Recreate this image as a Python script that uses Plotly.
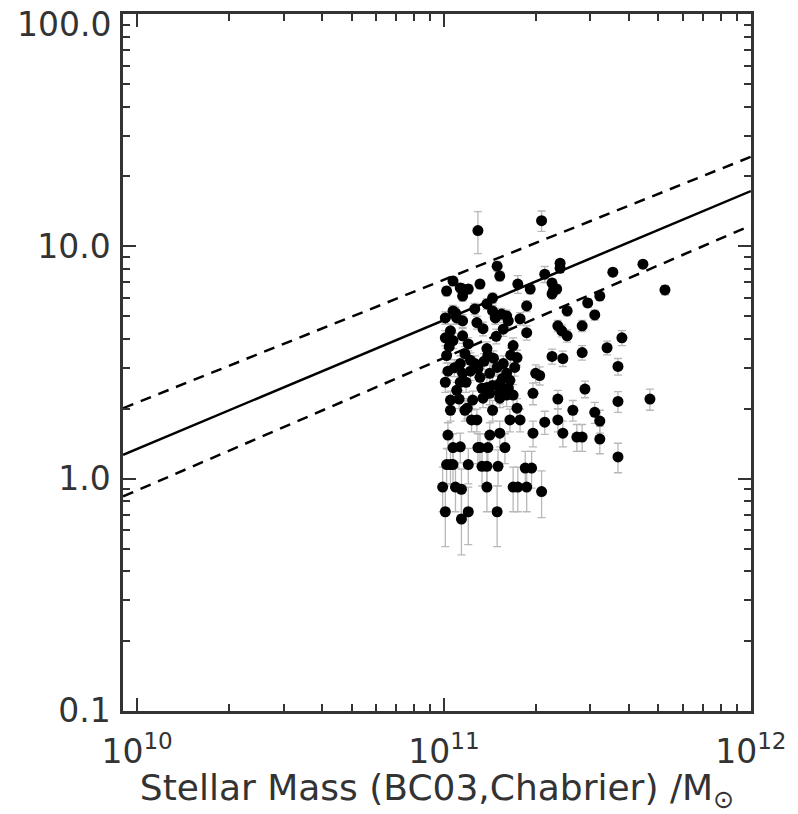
import numpy as np
import plotly.graph_objects as go

# Stellar mass in units of 1e11 Msun
mass_1e11 = [
    1.29, 2.08, 1.49, 1.52, 1.07, 1.02, 1.13, 1.20, 1.15, 1.31,
    1.74, 1.91, 1.86, 2.13, 2.39, 2.39, 2.25, 2.27, 1.44, 1.38,
    1.26, 1.07, 1.01, 1.10, 1.44, 1.47, 1.60, 1.77, 1.34, 1.05,
    1.01, 1.07, 1.68, 1.86, 2.35, 2.42, 2.52, 2.52, 2.82, 2.94,
    3.22, 3.10, 3.55, 4.45, 5.25, 3.80, 3.40, 2.82, 2.25, 2.44,
    3.69, 2.05, 1.95, 2.88, 2.35, 3.69, 4.69, 2.63, 3.10, 2.13,
    2.35, 3.22, 1.95, 2.44, 2.71, 2.82, 3.22, 3.69, 2.08, 2.25,
    2.33, 1.02, 1.01, 1.05, 1.05, 1.03, 1.07, 1.02, 0.99, 1.01,
    1.14, 1.20, 1.14, 1.09, 1.20, 1.07, 1.38, 1.49, 1.38, 1.31,
    1.39, 1.58, 1.52, 1.41, 1.23, 1.28, 1.44, 1.19, 1.24, 1.34,
    1.52, 1.73, 1.77, 1.64, 1.68, 1.74, 1.86, 1.84, 1.93, 1.73,
    1.38, 1.39, 1.13, 1.17, 1.22, 1.26, 1.29, 1.15, 1.13, 1.31,
    1.41, 1.49, 1.56, 1.60, 1.64, 1.52, 1.44, 1.38, 1.33, 1.52,
    1.60, 1.41, 1.70, 1.62, 1.68, 1.05, 1.33, 1.50, 1.13, 1.29,
    1.15, 1.17, 1.15, 1.09, 1.54, 1.62, 1.15, 1.99,
    1.04, 1.08, 1.10, 1.18, 1.22, 1.35, 1.45, 1.55, 1.65, 1.48,
    1.28, 1.20, 1.56, 1.03, 1.12,
]

ratio = [
    11.7, 12.9, 8.22, 7.45, 7.09, 6.42, 6.62, 6.55, 6.11, 6.88,
    6.88, 6.55, 5.54, 7.59, 8.46, 8.05, 6.95, 6.42, 5.99, 5.65,
    5.38, 5.27, 4.92, 4.92, 5.27, 4.92, 5.02, 4.88, 4.42, 4.33,
    4.04, 3.93, 3.74, 4.25, 4.55, 4.33, 4.12, 5.27, 4.55, 5.71,
    6.11, 5.07, 7.74, 8.38, 6.49, 4.04, 3.66, 3.49, 3.36, 3.29,
    3.04, 2.78, 2.33, 2.43, 2.20, 2.15, 2.20, 1.97, 1.93, 1.75,
    1.79, 1.77, 1.57, 1.57, 1.51, 1.51, 1.48, 1.24, 0.88, 6.24,
    6.55, 3.39, 2.60, 2.18, 1.97, 1.54, 1.36, 1.15, 0.92, 0.72,
    0.67, 0.72, 0.90, 0.92, 1.15, 1.15, 0.92, 0.72, 1.13, 1.36,
    1.36, 1.36, 1.57, 1.54, 1.79, 1.79, 1.97, 2.01, 2.18, 2.22,
    2.22, 2.01, 1.79, 1.79, 0.92, 0.92, 0.92, 1.11, 1.11, 3.32,
    3.63, 3.39, 3.13, 3.45, 3.23, 3.13, 2.98, 2.84, 2.60, 2.73,
    2.84, 3.01, 3.13, 2.84, 2.65, 2.57, 2.52, 2.47, 2.45, 2.35,
    2.29, 2.33, 3.01, 2.45, 2.29, 1.15, 1.13, 1.13, 1.37, 1.36,
    4.12, 1.97, 6.55, 5.17, 5.11, 4.78, 4.78, 2.84,
    3.70, 3.00, 2.40, 2.60, 2.90, 3.20, 3.30, 2.70, 3.40, 4.10,
    4.70, 3.80, 4.40, 2.90, 2.20,
]

ratio_err = [
    2.4, 1.3, 0.4, 0.35, 0.3, 0.3, 0.3, 0.3, 0.3, 0.3,
    0.6, 0.3, 0.3, 0.6, 0.3, 0.3, 0.3, 0.3, 0.3, 0.3,
    0.3, 0.3, 0.3, 0.3, 0.3, 0.3, 0.3, 0.3, 0.3, 0.3,
    0.3, 0.3, 0.3, 0.3, 0.25, 0.25, 0.25, 0.25, 0.25, 0.25,
    0.25, 0.25, 0.3, 0.3, 0.3, 0.3, 0.25, 0.25, 0.25, 0.25,
    0.25, 0.25, 0.25, 0.2, 0.2, 0.22, 0.23, 0.2, 0.2, 0.2,
    0.2, 0.2, 0.2, 0.2, 0.2, 0.2, 0.2, 0.18, 0.2, 0.3,
    0.3, 0.25, 0.25, 0.2, 0.2, 0.2, 0.2, 0.2, 0.2, 0.21,
    0.2, 0.2, 0.2, 0.2, 0.2, 0.2, 0.2, 0.21, 0.2, 0.2,
    0.2, 0.2, 0.2, 0.2, 0.2, 0.2, 0.2, 0.2, 0.2, 0.2,
    0.2, 0.2, 0.2, 0.2, 0.2, 0.2, 0.2, 0.2, 0.2, 0.25,
    0.25, 0.25, 0.25, 0.25, 0.25, 0.25, 0.25, 0.25, 0.25, 0.25,
    0.25, 0.25, 0.25, 0.25, 0.25, 0.25, 0.25, 0.25, 0.25, 0.25,
    0.25, 0.25, 0.25, 0.25, 0.25, 0.2, 0.2, 0.2, 0.2, 0.2,
    0.3, 0.2, 0.3, 0.3, 0.3, 0.3, 0.3, 0.25,
    0.25, 0.25, 0.2, 0.25, 0.25, 0.25, 0.25, 0.25, 0.25, 0.3,
    0.3, 0.25, 0.3, 0.25, 0.2,
]

# Relation lines (endpoints)
line_mass = [9.0e9, 1.0e12]
line_solid = [1.266, 17.3]
line_upper = [2.01, 24.3]
line_lower = [0.838, 12.3]

# Tick labels
x_tickvals = [1e10, 1e11, 1e12]
x_ticktext = ["10<sup>10</sup>", "10<sup>11</sup>", "10<sup>12</sup>"]
y_tickvals = [0.1, 1.0, 10.0, 100.0]
y_ticktext = ["0.1", "1.0", "10.0", ""]
y_top_label = "100.0"
x_title = "Stellar Mass (BC03,Chabrier) /M<sub>\u2299</sub>"

mass = np.array(mass_1e11) * 1e11

fig = go.Figure()

fig.add_trace(go.Scatter(
    x=mass, y=ratio, mode="markers",
    marker=dict(color="black", size=11, line=dict(width=0)),
    error_y=dict(type="data", array=ratio_err, visible=True,
                 color="#b8b8b8", thickness=1.3, width=4),
    showlegend=False,
))

fig.add_trace(go.Scatter(x=line_mass, y=line_solid, mode="lines",
                         line=dict(color="black", width=2.5), showlegend=False))
fig.add_trace(go.Scatter(x=line_mass, y=line_upper, mode="lines",
                         line=dict(color="black", width=2.5, dash="11px,8px"), showlegend=False))
fig.add_trace(go.Scatter(x=line_mass, y=line_lower, mode="lines",
                         line=dict(color="black", width=2.5, dash="11px,8px"), showlegend=False))

axis_font = dict(family="DejaVu Sans", size=33, color="#333333")

fig.update_xaxes(
    type="log", range=[9.954, 12.0005],
    tickvals=x_tickvals, ticktext=x_ticktext,
    ticks="inside", ticklen=13, tickwidth=1.5, tickcolor="#333333",
    minor=dict(ticks="inside", ticklen=7, tickwidth=1.5, tickcolor="#333333", dtick="D1", showgrid=False),
    showline=True, linewidth=2.5, linecolor="#333333", mirror="allticks",
    showgrid=False, zeroline=False, tickfont=axis_font,
    ticklabelstandoff=10,
    title=dict(text=x_title, font=dict(family="DejaVu Sans", size=36, color="#333333"), standoff=6),
)
fig.update_yaxes(
    type="log", range=[-1.0005, 2.0005],
    tickvals=y_tickvals, ticktext=y_ticktext,
    ticks="inside", ticklen=13, tickwidth=1.5, tickcolor="#333333",
    minor=dict(ticks="inside", ticklen=7, tickwidth=1.5, tickcolor="#333333", dtick="D1", showgrid=False),
    showline=True, linewidth=2.5, linecolor="#333333", mirror="allticks",
    showgrid=False, zeroline=False, tickfont=axis_font,
    ticklabelstandoff=3,
)

fig.add_annotation(
    text=y_top_label, xref="paper", x=0, xanchor="right", xshift=-10,
    yref="y", y=2, yanchor="middle", yshift=-10, showarrow=False,
    font=axis_font,
)

fig.update_layout(
    width=798, height=814,
    margin=dict(l=123, r=47, t=11, b=101),
    plot_bgcolor="white", paper_bgcolor="white",
)

fig.write_html("out.html")
